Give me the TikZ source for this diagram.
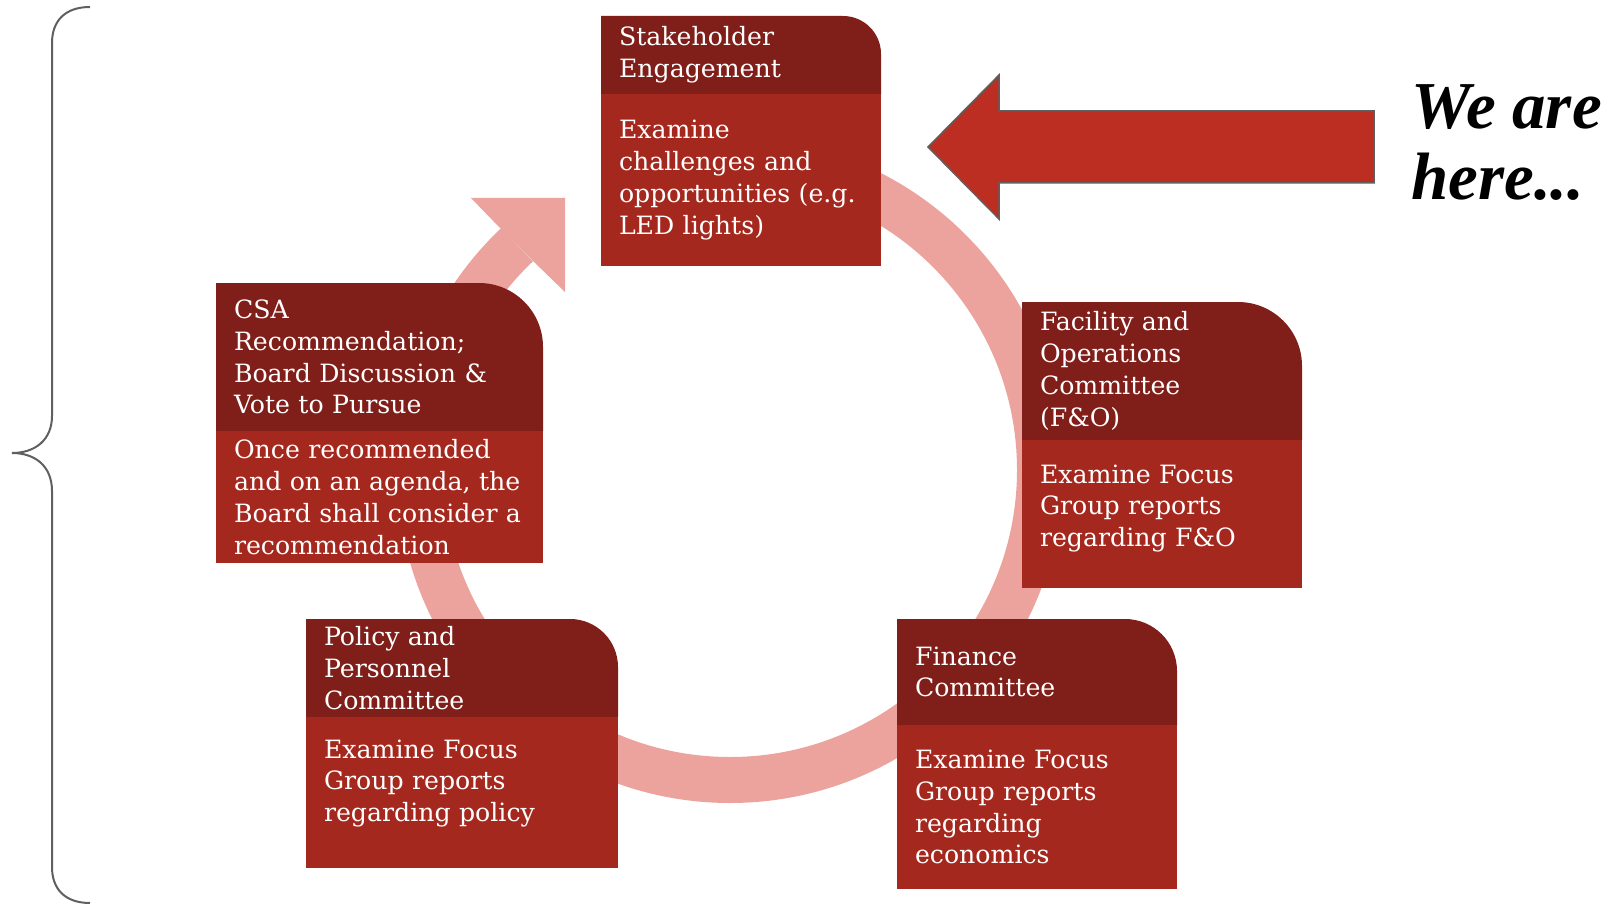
\documentclass[tikz,border=0pt]{standalone}
\usepackage{fontspec}
\setmainfont{DejaVu Serif}
\newfontfamily\herefont{Liberation Serif}
\usepackage{xcolor}
\usetikzlibrary{
  positioning,
  backgrounds}
\definecolor{headred}{RGB}{128,30,25}
\definecolor{bodyred}{RGB}{165,40,30}
\definecolor{ringpink}{RGB}{237,163,157}
\definecolor{arrowred}{RGB}{188,46,34}
\definecolor{edgegray}{RGB}{95,95,95}
\tikzset{every picture/.style={font issue=\fontsize{12.6}{15.9}},
         font issue/.style={execute at begin picture={#1\selectfont}}
        }
\tikzset{stagehead/.style={text=white, align=left, inner xsep=9pt, inner ysep=0pt, outer sep=0pt, anchor=north west},
         stagebody/.style={stagehead, fill=bodyred},
         lift/.style={execute at end node={\par\vspace{#1}}},
         ring/.style={ringpink, line width=23pt}
        }

\begin{document}
\begin{tikzpicture}[x=0.5pt, y=0.5pt]
\useasboundingbox (0,0) rectangle (1622,907);
% stages of the cycle
\node[stagehead, text width=122pt, minimum height=39pt] (stake) at (601,891) {Stakeholder\\ Engagement};
\node[stagebody, text width=122pt, minimum height=86pt, below=0pt of stake] (stakebody) {Examine\\ challenges and\\ opportunities (e.g.\\ LED lights)};
\node[stagehead, text width=122pt, minimum height=69pt] (facil) at (1022,605) {Facility and\\ Operations\\ Committee\\ (F\&O)};
\node[stagebody, text width=122pt, minimum height=74pt, lift=5.5pt, below=0pt of facil] (facilbody) {Examine Focus\\ Group reports\\ regarding F\&O};
\node[stagehead, text width=122pt, minimum height=53pt] (fin) at (897,288) {Finance\\ Committee};
\node[stagebody, text width=122pt, minimum height=82pt, below=0pt of fin] (finbody) {Examine Focus\\ Group reports\\ regarding\\ economics};
\node[stagehead, text width=138pt, minimum height=49pt] (policy) at (306,288) {Policy and\\ Personnel\\ Committee};
\node[stagebody, text width=138pt, minimum height=75.5pt, lift=9pt, below=0pt of policy] (policybody) {Examine Focus\\ Group reports\\ regarding policy};
\node[stagehead, text width=145.5pt, minimum height=74pt] (csa) at (216,624) {CSA\\ Recommendation;\\ Board Discussion \&\\ Vote to Pursue};
\node[stagebody, text width=145.5pt, minimum height=66pt, below=0pt of csa] (csabody) {Once recommended\\ and on an agenda, the\\ Board shall consider a\\ recommendation};

\begin{scope}[on background layer]
% cycle arrow behind the boxes
\draw[ring] (730,437) ++(90:310) arc[start angle=90, end angle=-226.6, radius=310];
\fill[ringpink] (471,709) -- (565,709) -- (565,615) -- (533,646) -- (500,679) -- cycle;
% header tabs, rounded top right
\foreach \n/\r in {stake/19pt, facil/32pt, fin/26pt, policy/24pt, csa/32pt}
  \fill[headred] (\n.south west) -- (\n.north west) -- ([xshift=-\r]\n.north east) arc[start angle=90, end angle=0, radius=\r] -- (\n.south east) -- cycle;
\end{scope}

% pointer
\draw[fill=arrowred, draw=edgegray, line width=0.75pt] (1374,796) -- (999,796) -- (999,832) -- (928,760) -- (999,688) -- (999,724) -- (1374,724) -- cycle;
\node[font=\herefont\bfseries\itshape\fontsize{33.5}{35.5}\selectfont, align=left, anchor=base west, inner sep=0pt] (here) at (1411,707) {We are\\ here...};

% brace
\draw[edgegray, line width=1pt] (90,900) .. controls (65,900) and (52,886) .. (52,864) -- (52,491) .. controls (52,467) and (35,454) .. (12,454) .. controls (35,454) and (52,441) .. (52,416) -- (52,40) .. controls (52,18) and (65,4) .. (90,4);
\end{tikzpicture}
\end{document}
